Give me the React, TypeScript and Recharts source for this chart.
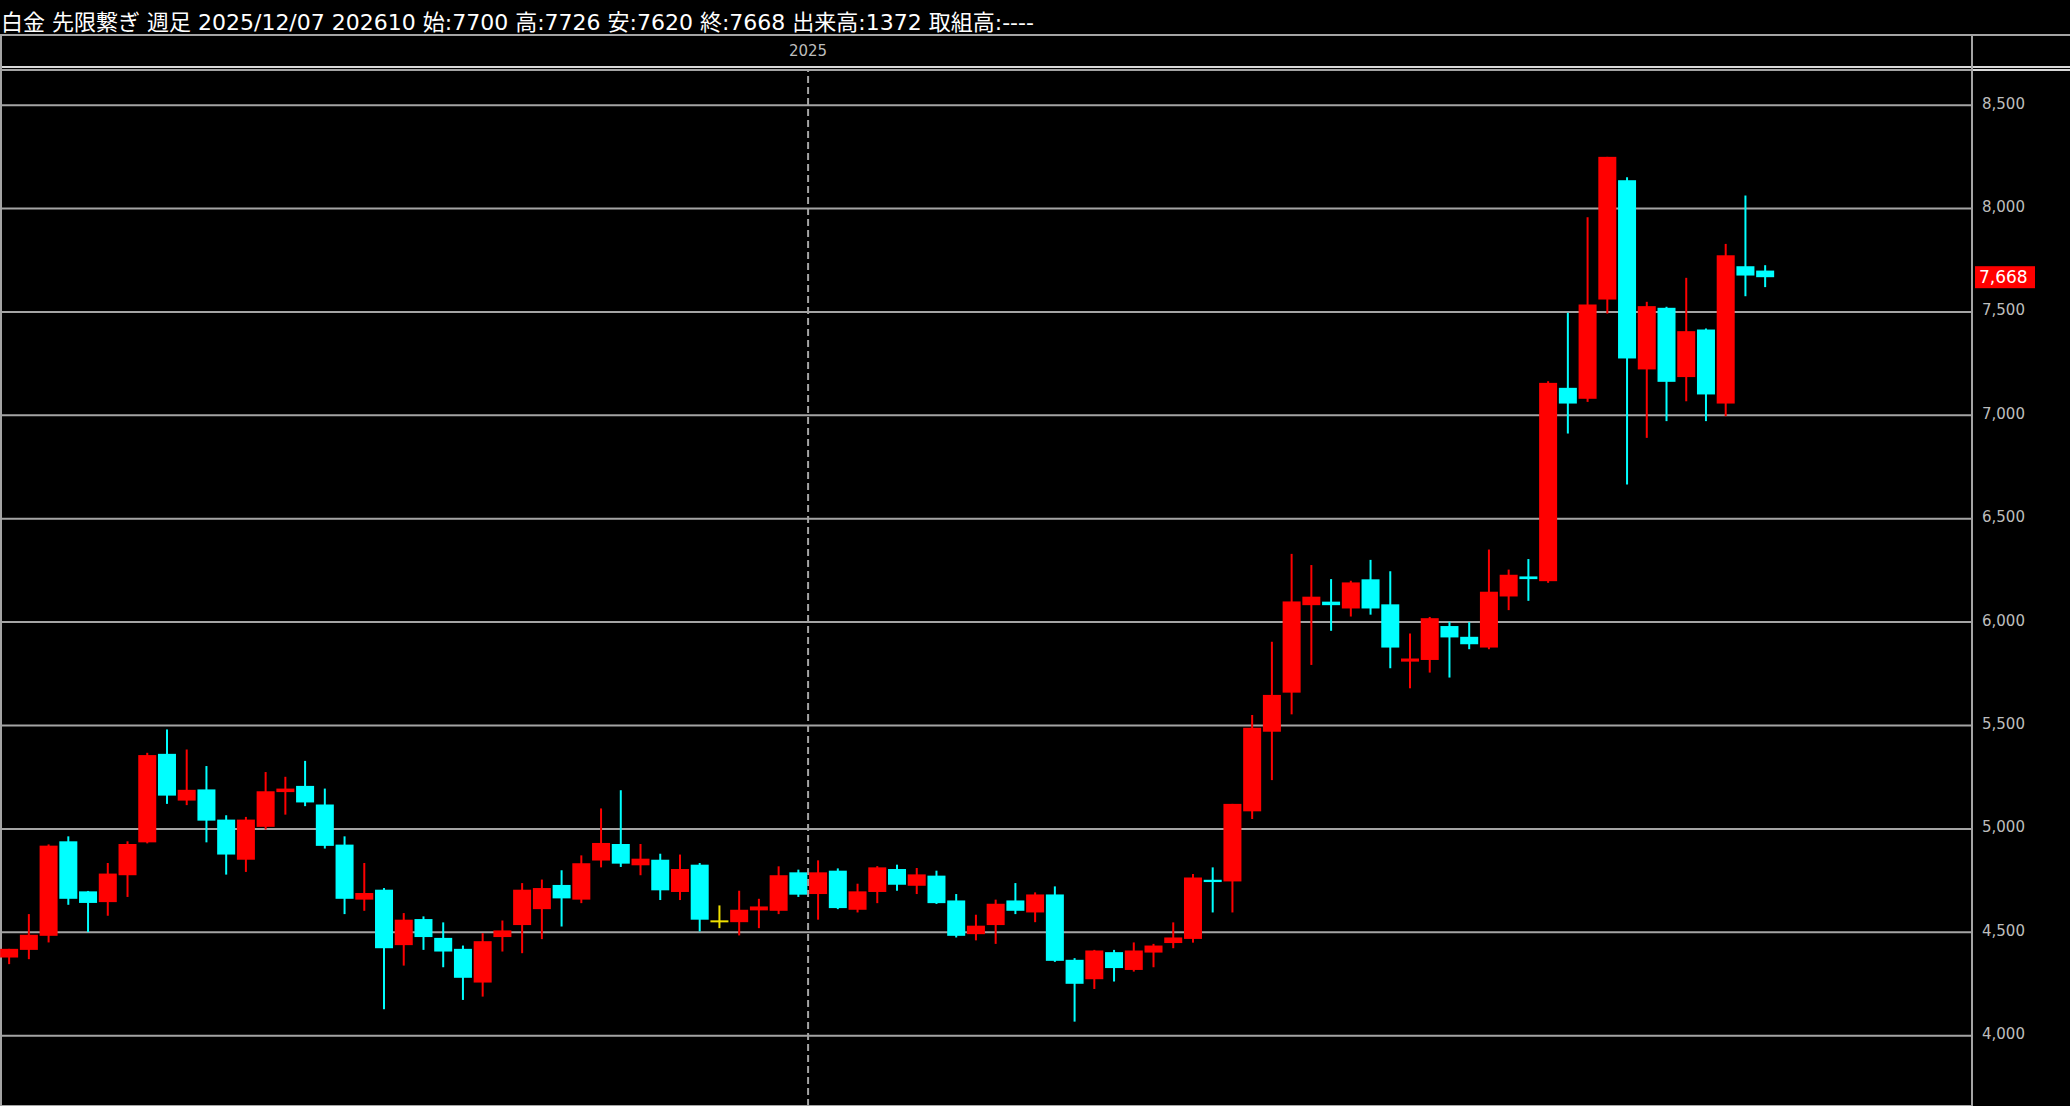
import React from 'react';
import { ComposedChart, Bar, XAxis, YAxis, CartesianGrid, ReferenceLine } from 'recharts';

// ---- data (weekly platinum futures, oldest -> newest) ----
const opens = [
  4378, 4415, 4483, 4940, 4698, 4646, 4776, 4935, 5363, 5137,
  5191, 5045, 4851, 5010, 5178, 5208, 5118, 4924, 4658, 4706,
  4438, 4564, 4473, 4420, 4257, 4477, 4535, 4612, 4729, 4658,
  4847, 4927, 4824, 4851, 4695, 4827, 4553, 4549, 4606, 4604,
  4790, 4685, 4798, 4609, 4695, 4806, 4725, 4774, 4654, 4491,
  4535, 4654, 4596, 4683, 4367, 4273, 4404, 4318, 4402, 4448,
  4468, 4754, 4746, 5085, 5470, 5659, 6082, 6099, 6066, 6207,
  6086, 5809, 5817, 5981, 5929, 5877, 6124, 6221, 6198, 7133,
  7080, 7560, 8137, 7222, 7520, 7185, 7415, 7057, 7721, 7700,
];
const highs = [
  4420, 4588, 4925, 4964, 4700, 4835, 4940, 5368, 5481, 5384,
  5304, 5066, 5058, 5275, 5252, 5329, 5195, 4964, 4835, 4714,
  4593, 4577, 4548, 4436, 4496, 4557, 4738, 4755, 4800, 4872,
  5099, 5187, 4927, 4880, 4876, 4835, 4630, 4701, 4662, 4819,
  4803, 4848, 4809, 4735, 4820, 4827, 4811, 4798, 4685, 4585,
  4658, 4738, 4693, 4722, 4375, 4415, 4415, 4451, 4444, 4548,
  4782, 4814, 5121, 5551, 5905, 6330, 6276, 6208, 6200, 6301,
  6246, 5945, 6025, 6002, 6000, 6351, 6254, 6305, 7165, 7496,
  7958, 8250, 8151, 7549, 7525, 7665, 7420, 7829, 8063, 7726,
];
const lows = [
  4346, 4370, 4451, 4633, 4501, 4580, 4671, 4930, 5121, 5115,
  4935, 4779, 4792, 4997, 5069, 5110, 4905, 4588, 4604, 4128,
  4339, 4415, 4331, 4173, 4189, 4407, 4399, 4467, 4528, 4641,
  4814, 4816, 4776, 4656, 4656, 4504, 4520, 4485, 4520, 4588,
  4671, 4561, 4612, 4596, 4641, 4701, 4685, 4637, 4475, 4461,
  4444, 4588, 4549, 4357, 4068, 4226, 4262, 4310, 4331, 4423,
  4450, 4596, 4596, 5048, 5236, 5554, 5793, 5958, 6027, 6036,
  5777, 5680, 5756, 5732, 5869, 5869, 6058, 6103, 6190, 6912,
  7065, 7492, 6666, 6891, 6972, 7068, 6972, 6996, 7576, 7620,
];
const closes = [
  4420, 4488, 4919, 4662, 4642, 4784, 4927, 5357, 5161, 5189,
  5040, 4876, 5045, 5182, 5195, 5128, 4918, 4662, 4690, 4423,
  4561, 4477, 4407, 4280, 4457, 4509, 4706, 4714, 4664, 4834,
  4932, 4832, 4856, 4703, 4806, 4561, 4553, 4609, 4625, 4776,
  4682, 4790, 4617, 4698, 4814, 4730, 4780, 4641, 4483, 4532,
  4638, 4604, 4683, 4362, 4251, 4412, 4327, 4412, 4436, 4475,
  4765, 4743, 5121, 5489, 5648, 6100, 6123, 6082, 6192, 6066,
  5877, 5824, 6019, 5926, 5893, 6147, 6229, 6208, 7157, 7057,
  7536, 8250, 7275, 7528, 7162, 7407, 7101, 7774, 7676, 7668,
];

const priceTicks = [4000, 4500, 5000, 5500, 6000, 6500, 7000, 7500, 8000, 8500];
// year boundary sits between the last week of 2024 (index 40) and first of 2025 (index 41)
const yearMarks = [{ pos: 40.5, label: '2025' }];
const headerText =
  '白金 先限繋ぎ 週足 2025/12/07 202610 始:7700 高:7726 安:7620 終:7668 出来高:1372 取組高:----';

const candles = opens.map((o, i) => ({ i, o, h: highs[i], l: lows[i], c: closes[i] }));
const lastClose = closes[closes.length - 1];

const RED = '#ff0000';
const CYAN = '#00ffff';
const DOJI = '#f0e000';
const GRID = '#a4a4a4';
const AXIS_TEXT = '#bdbdbd';
const NUM_FONT = "'DejaVu Sans', Verdana, sans-serif";

const W = 2070;
const H = 1106;

const Candle = (props: any) => {
  const { x, y, width, height, payload } = props;
  if (!payload || x == null || y == null) return null;
  const { o, h, l, c } = payload;
  const top = Math.min(y, y + height);
  const bot = Math.max(y, y + height);
  const span = h - l;
  const py = (v: number) => (span === 0 ? top : top + ((h - v) / span) * (bot - top));
  const color = c > o ? RED : c < o ? CYAN : DOJI;
  const cx = x + width / 2;
  const bTop = py(Math.max(o, c));
  const bBot = py(Math.min(o, c));
  const bh = Math.max(bBot - bTop, 2);
  return (
    <g>
      <line x1={cx} x2={cx} y1={top} y2={bot} stroke={color} strokeWidth={2} />
      <rect x={x} y={bTop - (bh > bBot - bTop ? 1 : 0)} width={width} height={bh} fill={color} />
    </g>
  );
};

const PriceTick = (props: any) => {
  const { x, y, payload } = props;
  return (
    <text x={x} y={y - 2} dy="0.36em" textAnchor="start" fill={AXIS_TEXT} fontSize={15} fontFamily={NUM_FONT}>
      {Number(payload.value).toLocaleString('en-US')}
    </text>
  );
};

const YearLabel = (props: any) => {
  const vb = props.viewBox || {};
  return (
    <text x={vb.x} y={vb.y - 14} textAnchor="middle" fill={AXIS_TEXT} fontSize={15} fontFamily={NUM_FONT}>
      {yearMarks[0].label}
    </text>
  );
};

const PriceTag = (props: any) => {
  const vb = props.viewBox || {};
  const x0 = vb.x + vb.width + 3;
  const yc = vb.y;
  return (
    <g>
      <rect x={x0} y={yc - 11} width={60} height={22} fill={RED} />
      <text x={x0 + 4} y={yc} dy="0.36em" fill="#ffffff" fontSize={17} fontFamily={NUM_FONT}>
        {lastClose.toLocaleString('en-US')}
      </text>
    </g>
  );
};

export default function App() {
  const xDomain: [number, number] = [-0.456, 99.49];
  return (
    <div
      style={{
        position: 'absolute',
        left: 0,
        top: 0,
        width: W,
        height: H,
        background: '#000',
        overflow: 'hidden',
      }}
    >
      <div
        style={{
          position: 'absolute',
          left: 1,
          top: 11,
          color: '#ffffff',
          fontSize: 22,
          lineHeight: '24px',
          whiteSpace: 'nowrap',
          fontFamily: "'DejaVu Sans', 'Noto Sans CJK JP', sans-serif",
        }}
      >
        {headerText}
      </div>
      {/* frame lines of the time-axis band */}
      <div style={{ position: 'absolute', left: 0, top: 34, width: W, height: 2, background: GRID }} />
      <div style={{ position: 'absolute', left: 0, top: 66, width: W, height: 2, background: '#d8d8d8' }} />
      <div style={{ position: 'absolute', left: 0, top: 69, width: W, height: 2, background: '#d8d8d8' }} />
      <div style={{ position: 'absolute', left: 0, top: 34, width: 2, height: H - 34, background: GRID }} />
      <div style={{ position: 'absolute', left: 1971, top: 34, width: 2, height: H - 34, background: GRID }} />
      <div style={{ position: 'absolute', left: 0, top: 0 }}>
        <ComposedChart
          width={W}
          height={H}
          data={candles}
          margin={{ top: 70, right: 0, bottom: 0, left: 0 }}
        >
          <CartesianGrid horizontal vertical={false} stroke={GRID} strokeWidth={2} />
          <XAxis dataKey="i" type="number" domain={xDomain} allowDataOverflow hide />
          <YAxis
            orientation="right"
            width={98}
            type="number"
            domain={[3660, 8670]}
            allowDataOverflow
            ticks={priceTicks}
            axisLine={false}
            tickLine={false}
            tickSize={0}
            tickMargin={10}
            tick={<PriceTick />}
            interval={0}
          />
          <ReferenceLine
            x={yearMarks[0].pos}
            stroke={GRID}
            strokeWidth={2}
            strokeDasharray="7 4"
            label={<YearLabel />}
          />
          <Bar
            dataKey={(d: any) => [d.l, d.h]}
            barSize={18}
            shape={<Candle />}
            isAnimationActive={false}
          />
          <ReferenceLine y={lastClose} stroke="none" strokeOpacity={0} label={<PriceTag />} />
        </ComposedChart>
      </div>
    </div>
  );
}
